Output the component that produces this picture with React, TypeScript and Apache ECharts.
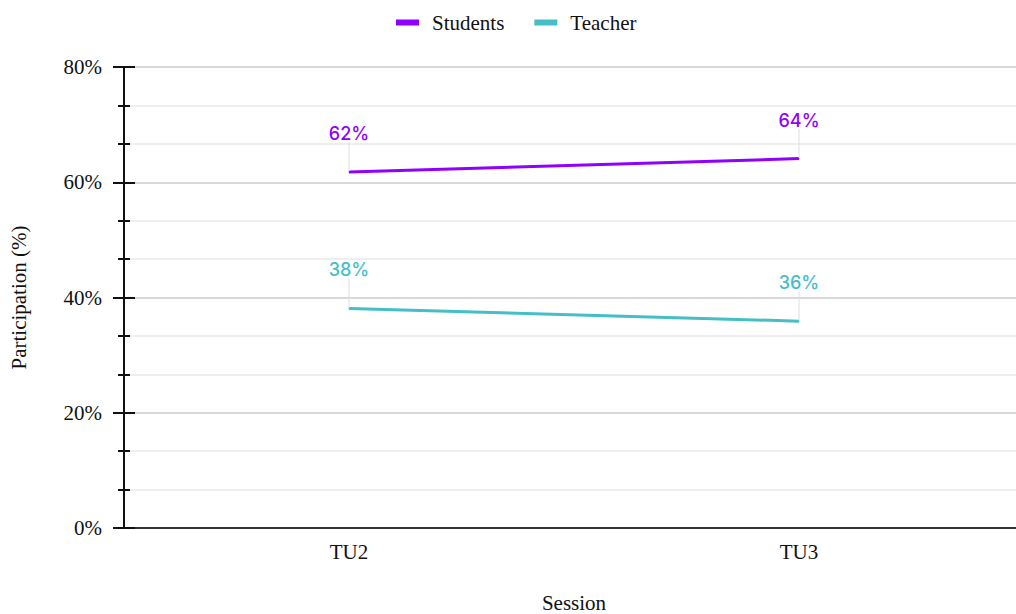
import React, { useEffect, useRef } from "react";
import * as echarts from "echarts";

const sessions = ["TU2", "TU3"];
const students = [61.8, 64.1];
const teacher = [38.1, 35.9];
const yTicks = [0, 20, 40, 60, 80];

const PURPLE = "#8F00FF";
const TEAL = "#45BEC6";
const SERIF = "'Liberation Serif', 'Times New Roman', serif";
const SANS = "Inter, 'Noto Sans', sans-serif";

export default function App() {
  const ref = useRef<HTMLDivElement>(null);
  useEffect(() => {
    if (!ref.current) return;
    document.body.style.margin = "0";
    document.body.style.overflow = "hidden";
    const chart = echarts.init(ref.current, null, { renderer: "svg" });
    const W = ref.current.clientWidth || 1016;
    const H = ref.current.clientHeight || 614;
    const mkSeries = (name: string, data: number[], color: string) => ({
      name,
      type: "line",
      data,
      symbol: "circle",
      symbolSize: 1,
      showSymbol: true,
      itemStyle: { color },
      lineStyle: { color, width: 3 },
      label: {
        show: true,
        position: "top",
        distance: 5,
        color,
        fontFamily: SANS,
        fontSize: 18,
        fontWeight: 500,
        formatter: (p: any) => Math.round(p.value) + "%",
      },
      labelLayout: { dy: -24 },
      labelLine: { show: true, lineStyle: { color: "#dddddd", width: 1 } },
    });
    chart.setOption({
      animation: false,
      legend: {
        top: 7,
        left: 391,
        icon: "rect",
        itemWidth: 23,
        itemHeight: 6,
        itemGap: 30,
        textStyle: { fontFamily: SERIF, fontSize: 21, color: "#111", padding: [0, 0, 0, 8] },
        data: ["Students", "Teacher"],
      },
      grid: {
        left: 124,
        right: W - 1024,
        top: 67,
        bottom: H - 528,
        containLabel: false,
        outerBoundsMode: "none",
      },
      xAxis: {
        type: "category",
        data: sessions,
        boundaryGap: true,
        name: "Session",
        nameLocation: "middle",
        nameGap: 64,
        nameTextStyle: { fontFamily: SERIF, fontSize: 21, color: "#111" },
        axisLine: { lineStyle: { color: "#333", width: 2 } },
        axisTick: { show: false },
        axisLabel: { fontFamily: SERIF, fontSize: 21, color: "#111", margin: 13 },
      },
      yAxis: [
        {
          type: "value",
          min: 0,
          max: 80,
          interval: 20,
          name: "Participation (%)",
          nameLocation: "middle",
          nameGap: 95,
          nameTextStyle: { fontFamily: SERIF, fontSize: 21, color: "#111" },
          axisLine: { show: true, lineStyle: { color: "#111", width: 2 } },
          axisTick: { show: true, length: 11, lineStyle: { color: "#111", width: 2 } },
          minorTick: { show: true, splitNumber: 3, length: 6, lineStyle: { color: "#111", width: 2 } },
          splitLine: { show: true, lineStyle: { color: "#cccccc", width: 1.5 } },
          minorSplitLine: { show: true, lineStyle: { color: "#e8e8e8", width: 1.5 } },
          axisLabel: {
            fontFamily: SERIF,
            fontSize: 21,
            color: "#111",
            margin: 22,
            formatter: (v: number) => (yTicks.includes(v) ? v + "%" : ""),
          },
        },
        {
          type: "value",
          min: 0,
          max: 80,
          interval: 20,
          position: "left",
          axisLine: { show: false },
          axisTick: { show: true, inside: true, length: 11, lineStyle: { color: "#111", width: 2 } },
          minorTick: { show: true, splitNumber: 3, length: 6, lineStyle: { color: "#111", width: 2 } },
          splitLine: { show: false },
          axisLabel: { show: false },
        },
      ],
      series: [mkSeries("Students", students, PURPLE), mkSeries("Teacher", teacher, TEAL)],
    });
    return () => {
      chart.dispose();
    };
  }, []);
  return (
    <div
      ref={ref}
      style={{ position: "fixed", left: 0, top: 0, right: 0, bottom: 0, background: "#fff" }}
    />
  );
}
